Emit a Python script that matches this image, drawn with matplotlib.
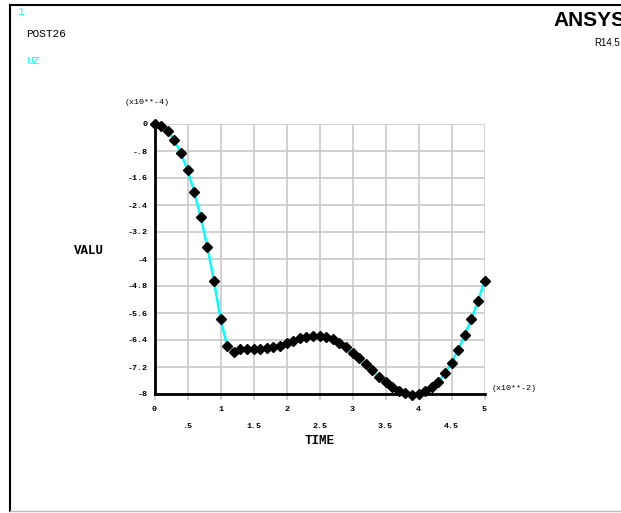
import matplotlib
matplotlib.use("Agg")
import matplotlib.pyplot as plt
from matplotlib.lines import Line2D

# time in x10**-2, UZ in x10**-4
time = [0.0, 0.1, 0.2, 0.3, 0.4, 0.5, 0.6, 0.7, 0.8, 0.9,
        1.0, 1.1, 1.2, 1.3, 1.4, 1.5, 1.6, 1.7, 1.8, 1.9,
        2.0, 2.1, 2.2, 2.3, 2.4, 2.5, 2.6, 2.7, 2.8, 2.9,
        3.0, 3.1, 3.2, 3.3, 3.4, 3.5, 3.6, 3.7, 3.8, 3.9,
        4.0, 4.1, 4.2, 4.3, 4.4, 4.5, 4.6, 4.7, 4.8, 4.9, 5.0]
uz = [0.0, -0.06, -0.20, -0.47, -0.87, -1.37, -2.01, -2.76, -3.64, -4.64,
      -5.78, -6.57, -6.75, -6.68, -6.67, -6.67, -6.66, -6.65, -6.62, -6.57,
      -6.50, -6.42, -6.35, -6.30, -6.27, -6.28, -6.32, -6.38, -6.48, -6.60,
      -6.78, -6.94, -7.11, -7.29, -7.50, -7.64, -7.80, -7.90, -7.98, -8.02,
      -8.01, -7.90, -7.80, -7.64, -7.39, -7.07, -6.70, -6.25, -5.79, -5.25, -4.65]

yticks = [0, -0.8, -1.6, -2.4, -3.2, -4, -4.8, -5.6, -6.4, -7.2, -8]
ytick_labels = ["0", "-.8", "-1.6", "-2.4", "-3.2", "-4", "-4.8", "-5.6", "-6.4", "-7.2", "-8"]
xticks_major = [0, 1, 2, 3, 4, 5]
xticks_half = [0.5, 1.5, 2.5, 3.5, 4.5]
xhalf_labels = [".5", "1.5", "2.5", "3.5", "4.5"]

W, H = 621, 513
mono = "Liberation Mono"
cyan = "#00ffff"


def px(x, y):
    return x / W, 1 - y / H


fig = plt.figure(figsize=(W / 100, H / 100), dpi=100)
fig.patch.set_facecolor("white")

# outer frame
fig.add_artist(Line2D([10 / W, 1.0], [1 - 5 / H] * 2, color="black", lw=1.5))
fig.add_artist(Line2D([10 / W] * 2, [1 - 5 / H, 1 - 511 / H], color="black", lw=1.5))
fig.add_artist(Line2D([10 / W, 1.0], [1 - 511 / H] * 2, color="#bbbbbb", lw=1.0))

ax = fig.add_axes([154.5 / W, 1 - 394 / H, 330 / W, 270 / H])
ax.set_xlim(0, 5)
ax.set_ylim(-8, 0)

for v in yticks:
    ax.axhline(v, color="#c8c8c8", lw=1.2, zorder=0)
for v in xticks_major + xticks_half:
    ax.axvline(v, color="#c8c8c8", lw=1.2, zorder=0)

ax.plot(time, uz, color=cyan, lw=1.8, zorder=2, clip_on=False)
ax.plot(time, uz, linestyle="none", marker="D", markersize=5.5,
        color="black", zorder=3, clip_on=False)

for s in ["top", "right"]:
    ax.spines[s].set_visible(False)
ax.spines["left"].set_linewidth(2)
ax.spines["bottom"].set_linewidth(2)

ax.set_yticks(yticks)
ax.set_yticklabels(ytick_labels, fontfamily=mono, fontsize=6, fontweight="bold")
ax.tick_params(axis="y", length=0, pad=5)
ax.set_xticks(xticks_major + xticks_half)
ax.set_xticklabels([])
ax.tick_params(axis="x", length=4, color="#c8c8c8", width=1.2)

# two rows of x labels: integers, then halves
for v in xticks_major:
    ax.text(v, -8.35, str(v), fontfamily=mono, fontsize=6,
            fontweight="bold", ha="center", va="top")
for v, lab in zip(xticks_half, xhalf_labels):
    ax.text(v, -8.85, lab, fontfamily=mono, fontsize=6, fontweight="bold",
            ha="center", va="top")

fig.text(*px(17, 12), "1", color=cyan, fontfamily=mono, fontsize=8, ha="left", va="center")
fig.text(*px(26, 34), "POST26", color="black", fontfamily=mono, fontsize=8, ha="left", va="center")
fig.text(*px(26, 61), "UZ", color=cyan, fontfamily=mono, fontsize=8, ha="left", va="center")
fig.text(*px(553, 20), "ANSYS", color="black", fontfamily="Liberation Sans", fontsize=15,
         fontweight="bold", ha="left", va="center")
fig.text(*px(594, 43), "R14.5", color="black", fontfamily="Liberation Sans", fontsize=7,
         ha="left", va="center")
fig.text(*px(125, 102), "(x10**-4)", fontfamily=mono, fontsize=6, ha="left", va="center")
fig.text(*px(492, 388), "(x10**-2)", fontfamily=mono, fontsize=6, ha="left", va="center")
fig.text(*px(74, 251), "VALU", fontfamily=mono, fontsize=9, fontweight="bold", ha="left", va="center")
fig.text(*px(320, 441), "TIME", fontfamily=mono, fontsize=9, fontweight="bold", ha="center", va="center")

fig.savefig("out.png", dpi=100)
